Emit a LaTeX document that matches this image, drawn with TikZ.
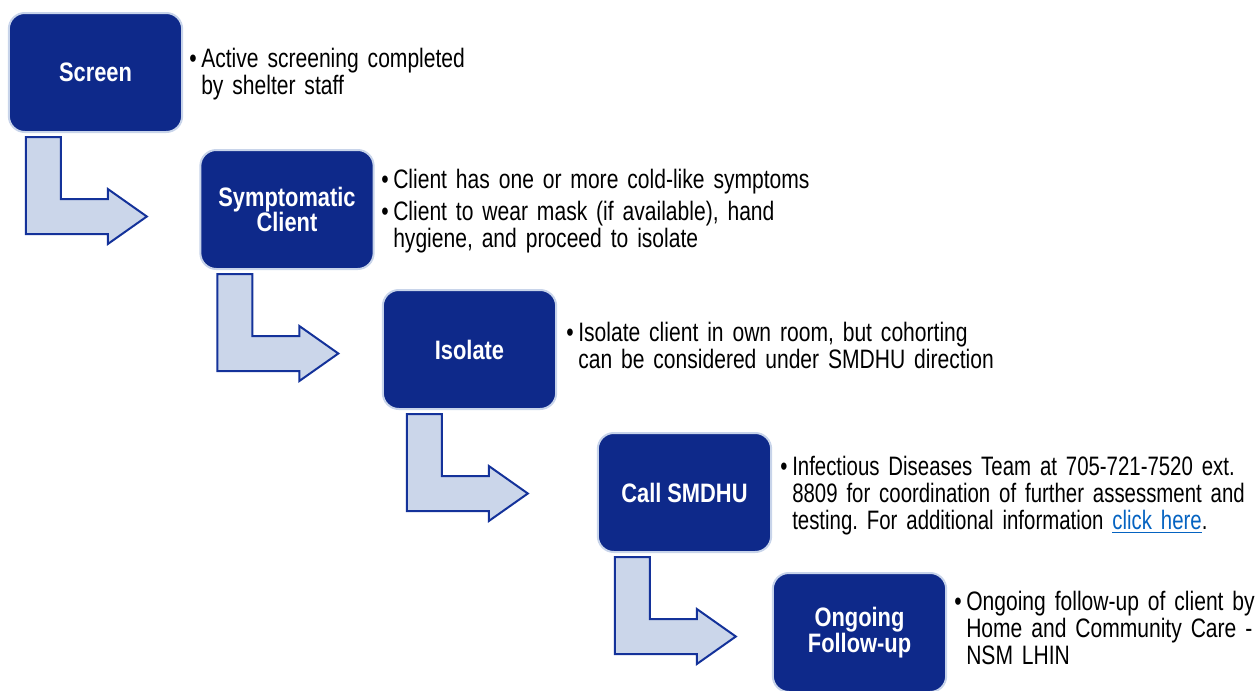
\documentclass[tikz,border=0pt]{standalone}
\usepackage{fontspec}
\setmainfont{Liberation Sans}[FakeStretch=0.79]
\newfontfamily\labelfont{Liberation Sans}[FakeStretch=0.82]
\newfontfamily\narrowerfont{Liberation Sans}[FakeStretch=0.765]
\usetikzlibrary{calc}
\definecolor{boxblue}{HTML}{0E298A}
\definecolor{boxedge}{HTML}{C8D4EA}
\definecolor{arrowfill}{HTML}{CBD6EA}
\definecolor{arrowline}{HTML}{14329A}
\definecolor{linkblue}{HTML}{0563C1}
\newlength{\bulw}\setlength{\bulw}{9pt}
\newcommand{\bitem}{\makebox[\bulw][l]{•}}
\newcommand{\narrowspace}{\spaceskip=0.22em plus 0.05em minus 0.03em\relax\frenchspacing}
\newcommand{\flowarrow}[2]{%
  \draw[blockarrow] ($(#1.south west)+(#2,4)$) coordinate (#1-stem)
    -- ++(35,0) -- ++(0,62) -- ++(47,0) -- ++(0,-10) -- ++(39,27.5)
    -- ++(-39,27.5) -- ++(0,-10) -- ++(-82,0) -- cycle;}
\begin{document}
\begin{tikzpicture}[x=0.75pt,y=-0.75pt,
  stepbox/.style={rectangle, rounded corners=12pt, fill=boxblue, draw=boxedge,
    line width=1.5pt, minimum width=130pt, minimum height=89.25pt, inner sep=0pt,
    text=white, align=center, font=\labelfont\bfseries\fontsize{20pt}{19.3pt}\selectfont\narrowspace},
  blockarrow/.style={fill=arrowfill, draw=arrowline, line width=1.5pt, line join=miter},
  note/.style={anchor=base west, inner sep=0pt, text width=420pt, align=left,
    font=\fontsize{20pt}{20.6pt}\selectfont\narrowspace}]
\useasboundingbox (0,0) rectangle (1257,690);

\node[stepbox] (b1) at (95.5,72.5) {Screen};
\node[stepbox] (b2) at (287,209.5) {Symptomatic\\Client};
\node[stepbox] (b3) at (469.5,349.5) {Isolate};
\node[stepbox] (b4) at (684.5,492.5) {Call SMDHU};
\node[stepbox] (b5) at (859.5,632.5) {Ongoing\\Follow-up};

\flowarrow{b1}{18}
\flowarrow{b2}{18}
\flowarrow{b3}{25}
\flowarrow{b4}{18}

\node[note] (t1) at (189,67) {\bitem Active screening completed\\\hspace*{\bulw}by shelter staff};
\node[note] (t2) at (381,188) {\bitem Client has one or more cold-like symptoms\\[3.4pt]\bitem Client to wear mask (if available), hand\\\hspace*{\bulw}hygiene, and proceed to isolate};
\node[note] (t3) at (566,341) {\bitem Isolate client in own room, but cohorting\\\hspace*{\bulw}can be considered under SMDHU direction};
\node[note, font=\narrowerfont\fontsize{20pt}{20.6pt}\selectfont\narrowspace] (t4) at (780,475) {\bitem Infectious Diseases Team at 705-721-7520 ext.\\\hspace*{\bulw}8809 for coordination of further assessment and\\\hspace*{\bulw}testing. For additional information \textcolor{linkblue}{\underline{click here}}.};
\node[note] (t5) at (954,610) {\bitem Ongoing follow-up of client by\\\hspace*{\bulw}Home and Community Care -\\\hspace*{\bulw}NSM LHIN};
\end{tikzpicture}
\end{document}
